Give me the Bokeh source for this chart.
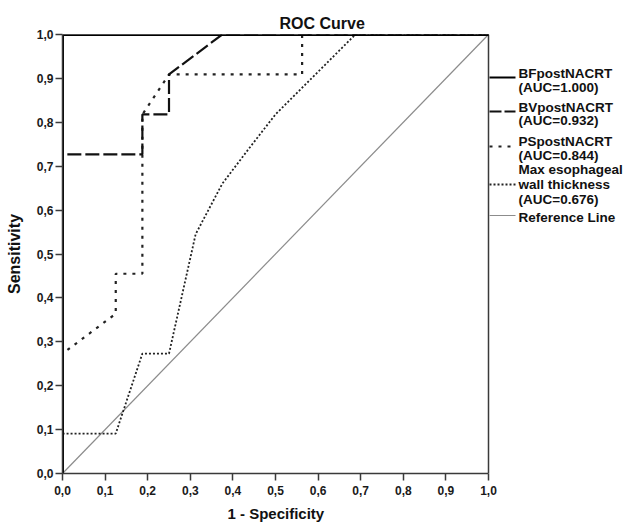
import math
from bokeh.plotting import figure
from bokeh.models import Range1d, FixedTicker, CustomJSTickFormatter, Title
from bokeh.core.properties import value
from bokeh.embed import file_html
from bokeh.resources import INLINE

# ---------------- data ----------------
ticks = [0.0, 0.1, 0.2, 0.3, 0.4, 0.5, 0.6, 0.7, 0.8, 0.9, 1.0]

bf_fpr = [0.0, 0.0, 1.0]
bf_tpr = [0.0, 1.0, 1.0]

bv_fpr = [0.0, 0.0, 0.1875, 0.1875, 0.25, 0.25, 0.375, 1.0]
bv_tpr = [0.0, 0.727, 0.727, 0.818, 0.818, 0.909, 1.0, 1.0]

ps_fpr = [0.0, 0.0, 0.125, 0.125, 0.1875, 0.1875, 0.25, 0.5625, 0.5625, 1.0]
ps_tpr = [0.0, 0.273, 0.364, 0.455, 0.455, 0.818, 0.909, 0.909, 1.0, 1.0]

mx_fpr = [0.0, 0.0, 0.125, 0.1875, 0.25, 0.3125, 0.375, 0.4375, 0.5, 0.6875, 1.0]
mx_tpr = [0.0, 0.091, 0.091, 0.273, 0.273, 0.545, 0.660, 0.740, 0.818, 1.0, 1.0]

ref_fpr = [0.0, 1.0]
ref_tpr = [0.0, 1.0]

legend_texts = [
    ["BFpostNACRT", "(AUC=1.000)"],
    ["BVpostNACRT", "(AUC=0.932)"],
    ["PSpostNACRT", "(AUC=0.844)"],
    ["Max esophageal", "wall thickness", "(AUC=0.676)"],
    ["Reference Line"],
]

title_text = "ROC Curve"
x_title = "1 - Specificity"
y_title = "Sensitivity"

# ---------------- layout ----------------
FONT = "Liberation Sans"
W, H = 627, 526
ML, MT, MB = 62, 34, 53
PX_X = 426.0          # pixels per unit on x
PX_Y = H - MT - MB    # pixels per unit on y (439)
xmax = (W - ML) / PX_X

def X(px):
    return (px - ML) / PX_X

def Y(py):
    return (H - MB - py) / PX_Y

p = figure(width=W, height=H, x_range=Range1d(0, xmax), y_range=Range1d(0, 1),
           output_backend="svg", toolbar_location=None,
           min_border_left=ML, min_border_right=0, min_border_top=MT, min_border_bottom=MB)
p.outline_line_color = None
p.grid.visible = False
p.background_fill_color = "white"
p.border_fill_color = "white"

# main title (left-aligned with offset so that it sits where the reference has it)
p.title.text = title_text
p.title.align = "left"
p.title.offset = 217
p.title.text_font = FONT
p.title.text_font_style = "bold"
p.title.text_font_size = "16px"
p.title.text_color = "#111111"
p.title.standoff = 6

fmt = CustomJSTickFormatter(code="return tick.toFixed(1).replace('.', ',');")
for ax in (p.xaxis[0], p.yaxis[0]):
    ax.ticker = FixedTicker(ticks=ticks)
    ax.formatter = fmt
    ax.bounds = (0, 1)
    ax.axis_line_color = "#3a3a3a"
    ax.axis_line_width = 1.5
    ax.major_tick_line_color = "#3a3a3a"
    ax.major_tick_line_width = 1.5
    ax.major_tick_out = 7
    ax.major_tick_in = 0
    ax.minor_tick_line_color = None
    ax.major_label_text_font = FONT
    ax.major_label_text_font_style = "bold"
    ax.major_label_text_font_size = "12px"
    ax.major_label_text_color = "#1a1a1a"
p.xaxis.major_label_standoff = 5
p.yaxis.major_label_standoff = 2
p.yaxis.axis_label = y_title
p.yaxis.axis_label_standoff = 11
p.yaxis.axis_label_text_font = FONT
p.yaxis.axis_label_text_font_style = "bold"
p.yaxis.axis_label_text_font_size = "16px"
p.yaxis.axis_label_text_color = "#111111"

# x-axis title, placed under the 0..1 part of the axis
xt = Title(text=x_title, align="left", offset=165, text_font=FONT,
           text_font_style="bold", text_font_size="15px", text_color="#111111",
           standoff=10)
p.add_layout(xt, "below")

# frame (top and right edges of the plot box)
p.segment(x0=[0.0, 1.0], y0=[1.0, 0.0], x1=[1.0, 1.0], y1=[1.0, 1.0],
          line_color="#3a3a3a", line_width=1.5)

# curves
p.line(ref_fpr, ref_tpr, line_color="#8c8c8c", line_width=1.2)
p.line(mx_fpr, mx_tpr, line_color="#222222", line_width=1.8, line_dash="2 2")
p.line(ps_fpr, ps_tpr, line_color="#222222", line_width=2.2, line_dash="3 6")
p.line(bv_fpr, bv_tpr, line_color="#111111", line_width=2.2, line_dash="14 4")
p.line(bf_fpr, bf_tpr, line_color="#000000", line_width=3)

# legend
styles = [
    dict(line_color="#000000", line_width=2),
    dict(line_color="#111111", line_width=2, line_dash="12 3"),
    dict(line_color="#222222", line_width=2, line_dash="3 6"),
    dict(line_color="#222222", line_width=1.8, line_dash="2 2"),
    dict(line_color="#8c8c8c", line_width=1.2),
]
line_py = [77, 111, 146, 184, 215]
text_py = [[73, 87], [107, 120], [141, 155], [169, 184, 199], [217]]
lx0, lx1, tx = X(489), X(515), X(518)
for st, ly, texts, tys in zip(styles, line_py, legend_texts, text_py):
    p.segment(x0=[lx0], y0=[Y(ly)], x1=[lx1], y1=[Y(ly)], **st)
    p.text(x=[tx] * len(texts), y=[Y(t) for t in tys], text=texts,
           text_font=value(FONT), text_font_style="bold", text_font_size="13.5px",
           text_color="#111111", text_baseline="middle", text_align="left")

open("out.html", "w").write(file_html(p, INLINE))
